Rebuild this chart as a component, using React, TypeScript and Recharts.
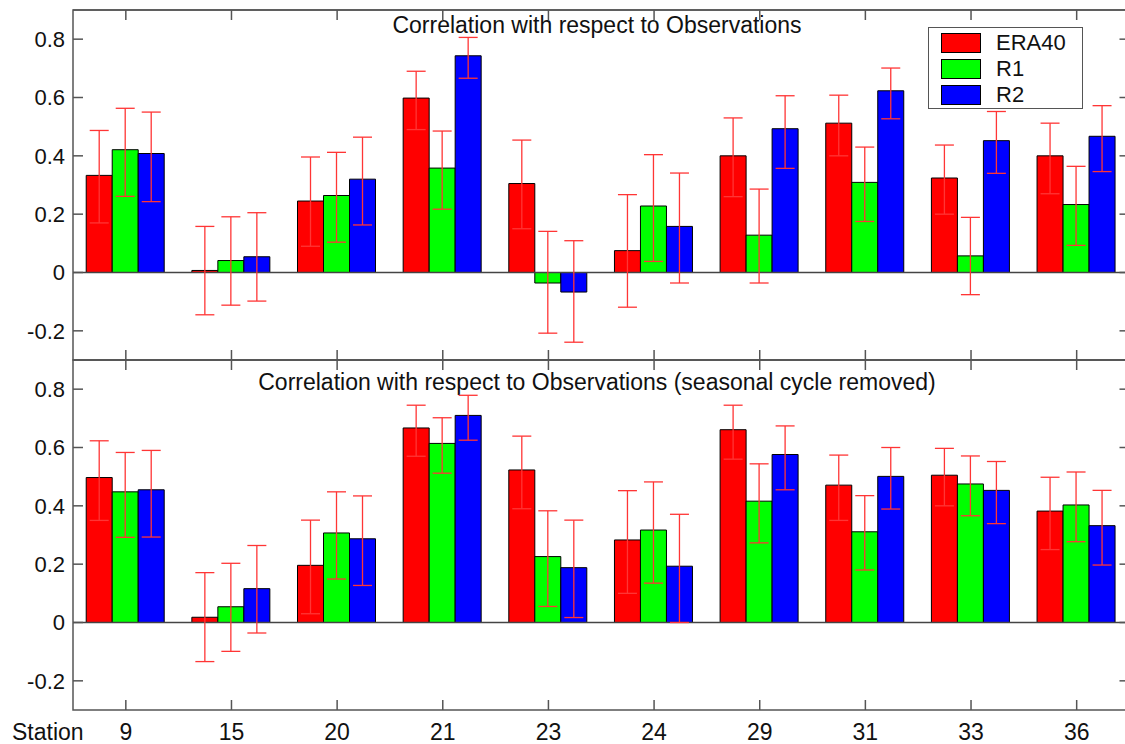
import React from "react";
import { BarChart, Bar, XAxis, YAxis, ErrorBar, ReferenceLine, ReferenceArea, Legend, Label } from "recharts";

// station ids on the x axis
const stations = ["9", "15", "20", "21", "23", "24", "29", "31", "33", "36"];
const yTicks = [-0.2, 0, 0.2, 0.4, 0.6, 0.8];
const yDomain = [-0.3, 0.9];

// top panel: raw correlation
const rawEra40 = [0.333, 0.007, 0.245, 0.598, 0.305, 0.075, 0.4, 0.512, 0.324, 0.4];
const rawEra40Lo = [0.17, -0.145, 0.09, 0.49, 0.15, -0.119, 0.26, 0.4, 0.2, 0.27];
const rawEra40Hi = [0.487, 0.158, 0.396, 0.69, 0.454, 0.267, 0.53, 0.608, 0.437, 0.512];
const rawR1 = [0.421, 0.041, 0.264, 0.358, -0.036, 0.228, 0.128, 0.309, 0.057, 0.233];
const rawR1Lo = [0.261, -0.112, 0.104, 0.217, -0.208, 0.038, -0.036, 0.175, -0.076, 0.093];
const rawR1Hi = [0.563, 0.191, 0.412, 0.485, 0.141, 0.404, 0.286, 0.43, 0.189, 0.364];
const rawR2 = [0.408, 0.054, 0.32, 0.743, -0.067, 0.158, 0.493, 0.623, 0.452, 0.467];
const rawR2Lo = [0.243, -0.098, 0.163, 0.666, -0.239, -0.036, 0.357, 0.527, 0.34, 0.346];
const rawR2Hi = [0.55, 0.205, 0.464, 0.806, 0.109, 0.341, 0.606, 0.701, 0.552, 0.572];

// bottom panel: seasonal cycle removed
const desEra40 = [0.497, 0.018, 0.196, 0.667, 0.523, 0.283, 0.661, 0.471, 0.505, 0.382];
const desEra40Lo = [0.35, -0.134, 0.03, 0.57, 0.39, 0.1, 0.56, 0.35, 0.4, 0.25];
const desEra40Hi = [0.623, 0.171, 0.351, 0.745, 0.639, 0.452, 0.745, 0.574, 0.597, 0.498];
const desR1 = [0.448, 0.054, 0.307, 0.614, 0.226, 0.317, 0.416, 0.311, 0.475, 0.403];
const desR1Lo = [0.292, -0.099, 0.149, 0.512, 0.055, 0.135, 0.273, 0.18, 0.366, 0.277];
const desR1Hi = [0.583, 0.203, 0.448, 0.702, 0.383, 0.482, 0.544, 0.435, 0.571, 0.516];
const desR2 = [0.455, 0.116, 0.287, 0.71, 0.188, 0.193, 0.576, 0.501, 0.453, 0.332];
const desR2Lo = [0.293, -0.036, 0.127, 0.625, 0.017, 0.0, 0.455, 0.389, 0.339, 0.197];
const desR2Hi = [0.59, 0.264, 0.434, 0.779, 0.351, 0.371, 0.674, 0.6, 0.552, 0.453];

const series = [
  { key: "era40", name: "ERA40", color: "#ff0000" },
  { key: "r1", name: "R1", color: "#00ff00" },
  { key: "r2", name: "R2", color: "#0000ff" },
];

const FRAME = "#555";
const ERR = "#ff3535";
const FONT = '"Liberation Sans", Arial, sans-serif';
const CHART_W = 1140;
const LEFT = 73;
const RIGHT = 10.5;
const PLOT_W = CHART_W - LEFT - RIGHT;
const PLOT_H = 350;
const PAD_TOP = 30;
const TICK = 10;

function buildRows(vals: number[][], lows: number[][], highs: number[][]) {
  return stations.map((st, i) => {
    const row: any = { station: st };
    series.forEach((s, k) => {
      const v = vals[k][i];
      row[s.key] = v;
      row[s.key + "Err"] = [v - lows[k][i], highs[k][i] - v];
    });
    return row;
  });
}

const rawRows = buildRows([rawEra40, rawR1, rawR2], [rawEra40Lo, rawR1Lo, rawR2Lo], [rawEra40Hi, rawR1Hi, rawR2Hi]);
const desRows = buildRows([desEra40, desR1, desR2], [desEra40Lo, desR1Lo, desR2Lo], [desEra40Hi, desR1Hi, desR2Hi]);

const LegendBox = () => (
  <div
    style={{
      width: 155,
      height: 82,
      boxSizing: "border-box",
      border: `1.5px solid ${FRAME}`,
      background: "#fff",
      position: "relative",
      fontFamily: FONT,
    }}
  >
    {series.map((s, i) => (
      <div key={s.key} style={{ position: "absolute", left: 12, top: 4.5 + i * 26, display: "flex", alignItems: "center" }}>
        <span style={{ width: 40, height: 20, boxSizing: "border-box", background: s.color, border: "1px solid #000", display: "inline-block" }} />
        <span style={{ marginLeft: 15, fontSize: 22, lineHeight: "20px", color: "#111" }}>{s.name}</span>
      </div>
    ))}
  </div>
);

// plot box of each panel starts PAD_TOP px below the top of its svg
function Panel({ rows, title, titleY, top, axisHeight, bottomPad, showLabels, showLegend }: any) {
  const height = PAD_TOP + PLOT_H + axisHeight + bottomPad;
  return (
    <div style={{ position: "absolute", left: 0, top: top - PAD_TOP }}>
      <BarChart
        width={CHART_W}
        height={height}
        data={rows}
        margin={{ top: PAD_TOP, right: RIGHT, bottom: bottomPad, left: 0 }}
        barCategoryGap="12.5%"
        barGap={0}
        style={{ fontFamily: FONT }}
      >
        <XAxis
          dataKey="station"
          height={axisHeight}
          axisLine={false}
          tickLine={false}
          tickSize={0}
          tickMargin={0}
          interval={0}
          tick={(p: any) => (
            <g>
              {/* inward ticks on the bottom and top edges of the box */}
              <line x1={p.x} x2={p.x} y1={p.y} y2={p.y - TICK} stroke={FRAME} strokeWidth={1.5} />
              <line x1={p.x} x2={p.x} y1={p.y - PLOT_H} y2={p.y - PLOT_H + TICK} stroke={FRAME} strokeWidth={1.5} />
              {showLabels && (
                <text x={p.x} y={p.y + 30} textAnchor="middle" fontSize={23} fill="#111" fontFamily={FONT}>
                  {p.payload.value}
                </text>
              )}
            </g>
          )}
        >
          {showLabels && (
            <Label
              content={(lp: any) => (
                <text x={lp.viewBox.x - 61} y={lp.viewBox.y + 30} fontSize={23} fill="#111" fontFamily={FONT}>
                  Station
                </text>
              )}
            />
          )}
        </XAxis>
        <YAxis
          width={LEFT}
          domain={yDomain}
          ticks={yTicks}
          allowDataOverflow
          axisLine={false}
          tickLine={false}
          tickSize={0}
          tickMargin={0}
          tick={(p: any) => (
            <g>
              {/* inward ticks on the left and right edges of the box */}
              <line x1={p.x} x2={p.x + TICK} y1={p.y} y2={p.y} stroke={FRAME} strokeWidth={1.5} />
              <line x1={p.x + PLOT_W} x2={p.x + PLOT_W - TICK} y1={p.y} y2={p.y} stroke={FRAME} strokeWidth={1.5} />
              <text x={p.x - 8} y={p.y} dy="0.36em" textAnchor="end" fontSize={22} fill="#111" fontFamily={FONT}>
                {p.payload.value === 0 ? "0" : String(p.payload.value)}
              </text>
            </g>
          )}
        />
        <ReferenceArea
          x1={stations[0]}
          x2={stations[stations.length - 1]}
          y1={yDomain[0]}
          y2={yDomain[1]}
          fill="none"
          fillOpacity={0}
          stroke={FRAME}
          strokeWidth={1.5}
          ifOverflow="visible"
        />
        <ReferenceLine y={yDomain[1]} stroke={FRAME} strokeWidth={1.5} ifOverflow="visible" />
        <ReferenceLine y={0} stroke="#444" strokeWidth={1.5} />
        {series.map((s) => (
          <Bar key={s.key} dataKey={s.key} name={s.name} fill={s.color} stroke="#000" strokeWidth={1} isAnimationActive={false}>
            <ErrorBar dataKey={s.key + "Err"} width={9.5} stroke={ERR} strokeWidth={1.3} direction="y" isAnimationActive={false} />
          </Bar>
        ))}
        {showLegend && (
          <Legend
            layout="vertical"
            align="center"
            verticalAlign="middle"
            content={LegendBox}
            wrapperStyle={{ left: 928, top: PAD_TOP + 17, width: 155, height: 82 }}
          />
        )}
        <text x={597} y={PAD_TOP + titleY} textAnchor="middle" fontSize={23} fill="#111" fontFamily={FONT}>
          {title}
        </text>
      </BarChart>
    </div>
  );
}

export default function App() {
  return (
    <div style={{ position: "absolute", left: 0, top: 0, width: 1125, height: 744, overflow: "hidden", background: "#fff" }}>
      <Panel
        rows={rawRows}
        title="Correlation with respect to Observations"
        titleY={23}
        top={10}
        axisHeight={1}
        bottomPad={9}
        showLabels={false}
        showLegend
      />
      <Panel
        rows={desRows}
        title="Correlation with respect to Observations (seasonal cycle removed)"
        titleY={30}
        top={360}
        axisHeight={34}
        bottomPad={0}
        showLabels
        showLegend={false}
      />
    </div>
  );
}
